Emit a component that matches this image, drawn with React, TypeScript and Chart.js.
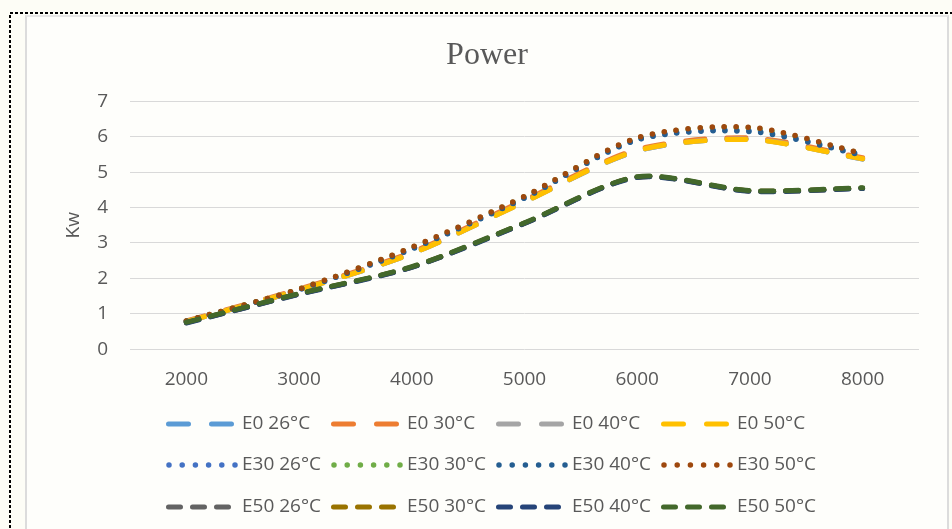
import React, { useEffect, useRef } from "react";
import { Chart, registerables } from "chart.js";

Chart.register(...registerables);

// ---- data ----
const rpmLabels = ["2000", "3000", "4000", "5000", "6000", "7000", "8000"];
const yTicks = [0, 1, 2, 3, 4, 5, 6, 7];

const e0_26 = [0.78, 1.67, 2.7, 4.17, 5.6, 5.93, 5.37];
const e0_30 = [0.8, 1.7, 2.74, 4.21, 5.64, 5.97, 5.41];
const e0_40 = [0.78, 1.67, 2.7, 4.16, 5.6, 5.93, 5.37];
const e0_50 = [0.78, 1.67, 2.7, 4.16, 5.61, 5.92, 5.38];

const e30_26 = [0.79, 1.68, 2.84, 4.28, 5.92, 6.17, 5.49];
const e30_30 = [0.8, 1.7, 2.87, 4.31, 5.96, 6.25, 5.52];
const e30_40 = [0.79, 1.68, 2.83, 4.27, 5.91, 6.15, 5.48];
const e30_50 = [0.8, 1.7, 2.88, 4.32, 5.97, 6.27, 5.53];

const e50_26 = [0.75, 1.56, 2.32, 3.56, 4.86, 4.47, 4.55];
const e50_30 = [0.75, 1.56, 2.32, 3.56, 4.86, 4.47, 4.55];
const e50_40 = [0.74, 1.55, 2.31, 3.55, 4.85, 4.46, 4.54];
const e50_50 = [0.76, 1.57, 2.33, 3.57, 4.87, 4.48, 4.56];

const seriesNames = [
  "E0 26°C", "E0 30°C", "E0 40°C", "E0 50°C",
  "E30 26°C", "E30 30°C", "E30 40°C", "E30 50°C",
  "E50 26°C", "E50 30°C", "E50 40°C", "E50 50°C",
];
const seriesValues = [
  e0_26, e0_30, e0_40, e0_50,
  e30_26, e30_30, e30_40, e30_50,
  e50_26, e50_30, e50_40, e50_50,
];
const seriesColors = [
  "#5B9BD5", "#ED7D31", "#A5A5A5", "#FFC000",
  "#4472C4", "#70AD47", "#255E91", "#9E480E",
  "#636363", "#997300", "#264478", "#43682B",
];

const TEXT = "#595959";
const FONT = '"Open Sans", "Liberation Sans", sans-serif';

type Style = { width: number; dash: number[]; legendDash: number[]; legendFrom: number; legendTo: number };
const longDash: Style = { width: 5, dash: [19, 22], legendDash: [20, 23], legendFrom: 2.5, legendTo: 65.5 };
const dotted: Style = { width: 5.5, dash: [0, 12], legendDash: [0, 13.2], legendFrom: 3, legendTo: 69.5 };
const dashed: Style = { width: 5, dash: [13, 12], legendDash: [12, 12], legendFrom: 2.5, legendTo: 65 };
const groupStyles = [longDash, dotted, dashed];

const legendCols = [139, 304, 469, 634];
const legendRows = [407, 448, 490];

const gridLegend = {
  id: "gridLegend",
  afterDraw(chart: any) {
    const ctx = chart.ctx as CanvasRenderingContext2D;
    ctx.save();
    chart.data.datasets.forEach((ds: any, i: number) => {
      const st = groupStyles[Math.floor(i / 4)];
      const x = legendCols[i % 4];
      const y = legendRows[Math.floor(i / 4)];
      ctx.beginPath();
      ctx.setLineDash(st.legendDash);
      ctx.lineCap = "round";
      ctx.lineWidth = st.width;
      ctx.strokeStyle = ds.borderColor;
      ctx.moveTo(x + st.legendFrom, y);
      ctx.lineTo(x + st.legendTo, y);
      ctx.stroke();
      ctx.setLineDash([]);
      ctx.fillStyle = TEXT;
      ctx.font = `19px ${FONT}`;
      ctx.textBaseline = "middle";
      ctx.textAlign = "left";
      ctx.fillText(ds.label, x + 76, y);
    });
    ctx.restore();
  },
};

export default function App() {
  const ref = useRef<HTMLCanvasElement | null>(null);

  useEffect(() => {
    if (!ref.current) return;
    const datasets = seriesNames.map((name, i) => {
      const st = groupStyles[Math.floor(i / 4)];
      return {
        label: name,
        data: seriesValues[i],
        borderColor: seriesColors[i],
        backgroundColor: seriesColors[i],
        borderWidth: st.width,
        borderDash: st.dash,
        borderCapStyle: "round" as const,
        borderJoinStyle: "round" as const,
        pointRadius: 0,
        pointHoverRadius: 0,
        tension: 0.28,
        fill: false,
        order: 12 - i,
      };
    });
    const chart = new Chart(ref.current, {
      type: "line",
      data: { labels: rpmLabels, datasets },
      plugins: [gridLegend],
      options: {
        animation: false,
        responsive: false,
        maintainAspectRatio: false,
        layout: { padding: { top: 0, left: 28, right: 28, bottom: 119 } },
        plugins: {
          legend: { display: false },
          tooltip: { enabled: false },
          title: {
            display: true,
            text: "Power",
            color: TEXT,
            font: { family: '"Liberation Serif", "Times New Roman", serif', size: 32, weight: "normal" },
            padding: { top: 19, bottom: 27 },
          },
        },
        scales: {
          x: {
            type: "category",
            offset: true,
            grid: { display: false, drawTicks: false },
            border: { display: false },
            ticks: { color: TEXT, font: { family: FONT, size: 19 }, padding: 19, maxRotation: 0 },
          },
          y: {
            min: 0,
            max: 7,
            afterFit: (scale: any) => {
              scale.width = 75;
            },
            afterBuildTicks: (scale: any) => {
              scale.ticks = yTicks.map((v) => ({ value: v }));
            },
            grid: { color: "#d9d9d9", lineWidth: 1, drawTicks: false },
            border: { display: false },
            ticks: { color: TEXT, font: { family: FONT, size: 19 }, padding: 22 },
            title: {
              display: true,
              text: "Kw",
              color: TEXT,
              font: { family: FONT, size: 19 },
              padding: { top: 7, bottom: 0 },
            },
          },
        },
      },
    });
    return () => chart.destroy();
  }, []);

  return (
    <div
      style={{
        position: "fixed",
        left: 0,
        top: 0,
        width: 952,
        height: 529,
        background: "#fdfdf6",
        overflow: "hidden",
      }}
    >
      <svg
        width={952}
        height={529}
        style={{ position: "absolute", left: 0, top: 0 }}
      >
        <rect x={10} y={13} width={960} height={540} fill="none" stroke="#000" strokeWidth={2} strokeDasharray="3 2" />
      </svg>
      <div
        style={{
          position: "absolute",
          left: 25,
          top: 15,
          width: 924,
          height: 520,
          boxSizing: "border-box",
          borderLeft: "2px solid #dcdcdc",
          borderRight: "2px solid #dcdcdc",
          borderTop: "2px solid #e6e6e6",
          background: "#fefefb",
        }}
      >
        <canvas ref={ref} width={920} height={512} style={{ display: "block", width: 920, height: 512 }} />
      </div>
    </div>
  );
}
